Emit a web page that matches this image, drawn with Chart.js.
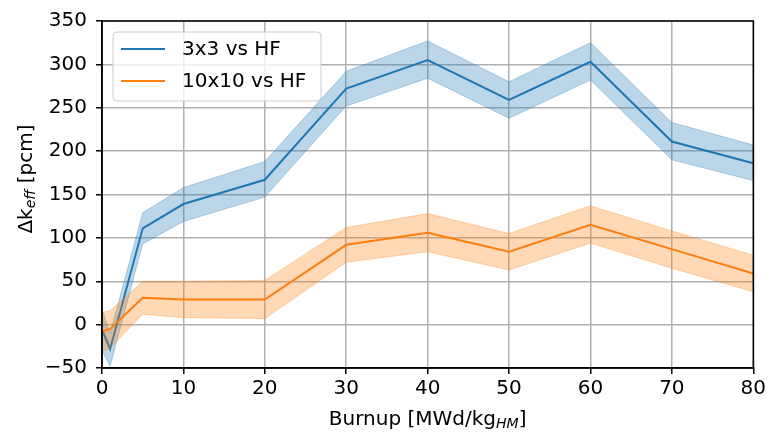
<!DOCTYPE html>
<html>
<head>
<meta charset="utf-8">
<script src="https://cdn.jsdelivr.net/npm/chart.js@4/dist/chart.umd.min.js"></script>
<style>
html,body{margin:0;padding:0;background:#fff;}
#wrap{width:769px;height:435px;position:relative;}
</style>
</head>
<body>
<div id="wrap"><canvas id="c" width="769" height="435"></canvas></div>
<script>
const burnup = [0, 1, 5, 10, 20, 30, 40, 50, 60, 70, 80];
const s3x3 = [-6, -28, 111, 139, 167, 272, 305, 259, 303, 211, 186];
const s3x3Upper = [18, -10, 129, 158, 188, 292, 327, 280, 325, 233, 207];
const s3x3Lower = [-30, -48, 93, 119, 147, 252, 284, 238, 282, 190, 166];
const s10x10 = [-8, -5, 31, 29, 29, 92, 106, 84, 115, 87, 59];
const s10x10Upper = [14, 16, 50, 50, 51, 112, 128, 105, 137, 108, 80];
const s10x10Lower = [-31, -27, 12, 8, 7, 72, 84, 63, 94, 65, 38];
const seriesLabels = ["3x3 vs HF", "10x10 vs HF"];
const yTicks = [-50, 0, 50, 100, 150, 200, 250, 300, 350];
const xTicks = [0, 10, 20, 30, 40, 50, 60, 70, 80];

const BLUE = '#1f77b4', ORANGE = '#ff7f0e';
const BLUE_A = 'rgba(31,119,180,0.3)', ORANGE_A = 'rgba(255,127,14,0.3)';
const FONT = '"DejaVu Sans", sans-serif';

const pts = ys => burnup.map((x, i) => ({x: x, y: ys[i]}));

const datasets = [
  {label: 'b_up', data: pts(s3x3Upper), borderColor: BLUE_A, backgroundColor: BLUE_A, borderWidth: 1, fill: '+1', pointRadius: 0, order: 6},
  {label: 'b_lo', data: pts(s3x3Lower), borderColor: BLUE_A, backgroundColor: BLUE_A, borderWidth: 1, fill: false, pointRadius: 0, order: 6},
  {label: seriesLabels[0], data: pts(s3x3), borderColor: BLUE, borderWidth: 2, fill: false, pointRadius: 0, order: 5, main: true},
  {label: 'o_up', data: pts(s10x10Upper), borderColor: ORANGE_A, backgroundColor: ORANGE_A, borderWidth: 1, fill: '+1', pointRadius: 0, order: 3},
  {label: 'o_lo', data: pts(s10x10Lower), borderColor: ORANGE_A, backgroundColor: ORANGE_A, borderWidth: 1, fill: false, pointRadius: 0, order: 3},
  {label: seriesLabels[1], data: pts(s10x10), borderColor: ORANGE, borderWidth: 2, fill: false, pointRadius: 0, order: 2, main: true}
];

const decor = {
  id: 'decor',
  afterDraw(chart) {
    const ctx = chart.ctx, a = chart.chartArea;
    ctx.save();
    // spines
    ctx.strokeStyle = '#000'; ctx.lineWidth = 1.5;
    ctx.strokeRect(a.left, a.top, a.right - a.left, a.bottom - a.top);
    // legend
    const lx = a.left + 11, ly = a.top + 11, lw = 208, lh = 69;
    ctx.fillStyle = 'rgba(255,255,255,0.8)';
    ctx.strokeStyle = '#cccccc'; ctx.lineWidth = 1;
    ctx.beginPath();
    if (ctx.roundRect) ctx.roundRect(lx, ly, lw, lh, 4); else ctx.rect(lx, ly, lw, lh);
    ctx.fill(); ctx.stroke();
    const mains = chart.data.datasets.filter(d => d.main);
    ctx.font = '20px ' + FONT; ctx.textBaseline = 'middle'; ctx.textAlign = 'left';
    mains.forEach((d, i) => {
      const y = ly + 17 + i * 32;
      ctx.strokeStyle = d.borderColor; ctx.lineWidth = 2;
      ctx.beginPath(); ctx.moveTo(lx + 8, y); ctx.lineTo(lx + 52, y); ctx.stroke();
      ctx.fillStyle = '#000';
      ctx.fillText(d.label, lx + 69, y + 1);
    });
    // x axis title with subscript
    ctx.fillStyle = '#000'; ctx.textBaseline = 'alphabetic';
    const cx = (a.left + a.right) / 2;
    const p1 = 'Burnup [MWd/kg', sub = 'HM', p3 = ']';
    ctx.font = '20px ' + FONT; const w1 = ctx.measureText(p1).width, w3 = ctx.measureText(p3).width;
    ctx.font = 'italic 14px ' + FONT; const w2 = ctx.measureText(sub).width;
    let x0 = cx - (w1 + w2 + w3) / 2, by = 425;
    ctx.font = '20px ' + FONT; ctx.fillText(p1, x0, by);
    ctx.font = 'italic 14px ' + FONT; ctx.fillText(sub, x0 + w1, by + 3);
    ctx.font = '20px ' + FONT; ctx.fillText(p3, x0 + w1 + w2, by);
    // y axis title
    ctx.translate(32, 179); ctx.rotate(-Math.PI / 2);
    const q1 = 'Δk', qs = 'eff', q3 = ' [pcm]';
    ctx.font = '20px ' + FONT; const v1 = ctx.measureText(q1).width, v3 = ctx.measureText(q3).width;
    ctx.font = 'italic 14px ' + FONT; const v2 = ctx.measureText(qs).width;
    let y0 = -(v1 + v2 + v3) / 2;
    ctx.font = '20px ' + FONT; ctx.fillText(q1, y0, 0);
    ctx.font = 'italic 14px ' + FONT; ctx.fillText(qs, y0 + v1, 3);
    ctx.font = '20px ' + FONT; ctx.fillText(q3, y0 + v1 + v2, 0);
    ctx.restore();
  }
};

new Chart(document.getElementById('c'), {
  type: 'line',
  data: {datasets: datasets},
  plugins: [decor],
  options: {
    responsive: false,
    animation: false,
    layout: {padding: {top: 18, right: 14, left: 0, bottom: 0}},
    plugins: {legend: {display: false}, tooltip: {enabled: false}},
    elements: {line: {tension: 0}},
    scales: {
      x: {
        type: 'linear', min: 0, max: 80,
        afterFit(s) { s.height = 67; },
        afterBuildTicks(s) { s.ticks = xTicks.map(v => ({value: v})); },
        grid: {color: '#b0b0b0', lineWidth: 1.5, tickColor: '#000', tickLength: 6, tickWidth: 1.5},
        border: {display: true, color: '#000', width: 1.5},
        ticks: {font: {family: FONT, size: 20}, color: '#000', padding: 3, maxRotation: 0}
      },
      y: {
        type: 'linear', min: -50, max: 350,
        afterFit(s) { s.width = 102; },
        afterBuildTicks(s) { s.ticks = yTicks.map(v => ({value: v})); },
        grid: {color: '#b0b0b0', lineWidth: 1.5, tickColor: '#000', tickLength: 6, tickWidth: 1.5},
        border: {display: true, color: '#000', width: 1.5},
        ticks: {font: {family: FONT, size: 20}, color: '#000', padding: 9,
          callback: v => (v < 0 ? '\u2212' + Math.abs(v) : String(v))}
      }
    }
  }
});
</script>
</body>
</html>
